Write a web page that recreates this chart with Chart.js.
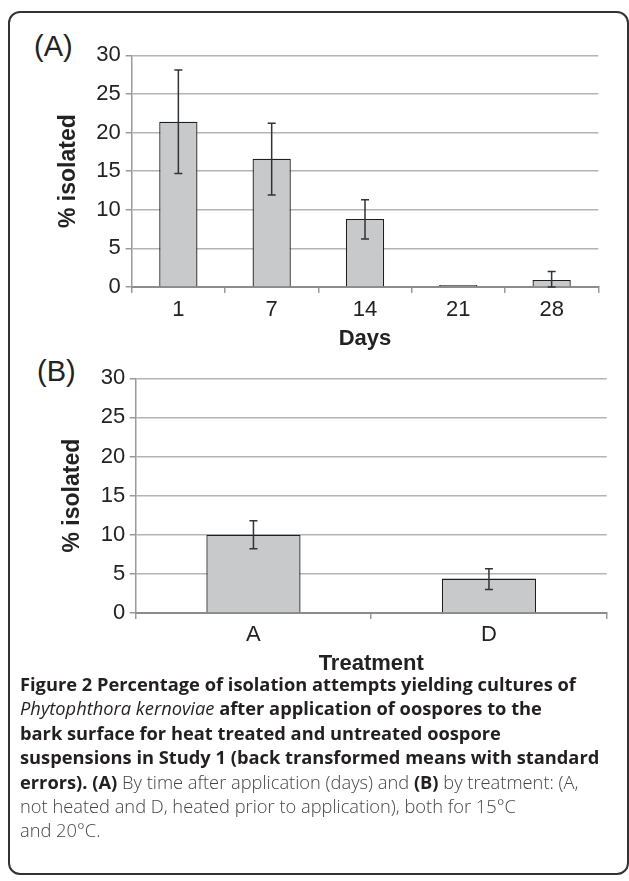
<!DOCTYPE html>
<html>
<head>
<meta charset="utf-8">
<script src="https://cdn.jsdelivr.net/npm/chart.js@4/dist/chart.umd.min.js"></script>
<style>
    html, body {
        margin: 0;
        padding: 0;
        background: #ffffff;
    }
    body {
        position: relative;
        width: 629px;
        height: 881px;
        overflow: hidden;
    }
    .frame {
        position: absolute;
        left: 8px;
        top: 11px;
        width: 617px;
        height: 860px;
        border: 2px solid #333333;
        border-radius: 12px;
    }
    canvas {
        position: absolute;
        left: 0;
    }
    #chart-days {
        top: 0;
    }
    #chart-treatment {
        top: 355px;
    }
    .panel-label {
        position: absolute;
        font-family: "Liberation Sans", Arial, sans-serif;
        font-size: 29px;
        line-height: 29px;
        color: #222222;
    }
    .caption {
        position: absolute;
        left: 20px;
        top: 672px;
        font-family: "Open Sans", "Noto Sans", sans-serif;
        font-size: 18.3px;
        line-height: 24.4px;
        color: #444444;
        font-weight: 300;
        white-space: nowrap;
    }
    .caption b {
        font-weight: 700;
        color: #231f20;
    }
    .caption i {
        font-weight: 400;
        color: #231f20;
    }
</style>
</head>
<body>
<div class="frame"></div>
<div class="panel-label" style="left: 34px; top: 32px">(A)</div>
<div class="panel-label" style="left: 37px; top: 357px">(B)</div>
<canvas id="chart-days" width="629" height="355"></canvas>
<canvas id="chart-treatment" width="629" height="335"></canvas>
<div class="caption">
    <b>Figure 2 Percentage of isolation attempts yielding cultures of</b><br>
    <i>Phytophthora kernoviae</i> <b>after application of oospores to the</b><br>
    <b>bark surface for heat treated and untreated oospore</b><br>
    <b>suspensions in Study 1 (back transformed means with standard</b><br>
    <b>errors). (A)</b> By time after application (days) and <b>(B)</b> by treatment: (A,<br>
    not heated and D, heated prior to application), both for 15°C<br>
    and 20°C.
</div>
<script>
// (A) percentage isolated by days after application
var dayLabels = ["1", "7", "14", "21", "28"];
var dayMeans = [21.4, 16.6, 8.8, 0.25, 0.9];
var dayUpper = [28.1, 21.2, 11.3, 0.25, 2.0];
var dayLower = [14.7, 11.9, 6.2, 0.25, 0.0];

// (B) percentage isolated by treatment
var treatmentLabels = ["A", "D"];
var treatmentMeans = [10.0, 4.4];
var treatmentUpper = [11.8, 5.65];
var treatmentLower = [8.2, 3.0];

var yTicks = [0, 5, 10, 15, 20, 25, 30];

var tickFont = { family: "Liberation Sans", size: 22 };
var xTitleFont = { family: "Liberation Sans", size: 22, weight: "bold" };
var yTitleFont = { family: "Liberation Sans", size: 23, weight: "bold" };

// draws standard error whiskers for each bar
var errorBarsPlugin = {
    id: "errorBars",
    afterDatasetsDraw: function (chart, args, opts) {
        var ctx = chart.ctx;
        var meta = chart.getDatasetMeta(0);
        var yScale = chart.scales.y;
        ctx.save();
        ctx.strokeStyle = "#333333";
        ctx.lineWidth = 1.5;
        meta.data.forEach(function (bar, i) {
            var hi = opts.upper[i];
            var lo = opts.lower[i];
            if (hi === lo) return;
            var yHi = yScale.getPixelForValue(hi);
            var yLo = yScale.getPixelForValue(lo);
            var x = bar.x;
            ctx.beginPath();
            ctx.moveTo(x, yHi);
            ctx.lineTo(x, yLo);
            ctx.moveTo(x - 4, yHi);
            ctx.lineTo(x + 4, yHi);
            ctx.moveTo(x - 4, yLo);
            ctx.lineTo(x + 4, yLo);
            ctx.stroke();
        });
        ctx.restore();
    },
};

function makeConfig(labels, means, upper, lower, xTitle, barPct, pad, yWidth, xHeight, yTickPad, xTickPad, xTitlePad) {
    return {
        type: "bar",
        data: {
            labels: labels,
            datasets: [
                {
                    data: means,
                    backgroundColor: "#c8c9cb",
                    borderColor: "#1e1e1e",
                    borderWidth: 1.3,
                    barPercentage: barPct,
                    categoryPercentage: 1.0,
                },
            ],
        },
        options: {
            responsive: false,
            animation: false,
            events: [],
            layout: { padding: pad },
            plugins: {
                legend: { display: false },
                tooltip: { enabled: false },
                errorBars: { upper: upper, lower: lower },
            },
            scales: {
                x: {
                    grid: {
                        offset: true,
                        drawOnChartArea: false,
                        color: "#9a9a9a",
                        lineWidth: 1.5,
                        tickLength: 6,
                    },
                    border: { color: "#8c8c8c", width: 2 },
                    ticks: { color: "#222222", font: tickFont, padding: xTickPad },
                    title: {
                        display: true,
                        text: xTitle,
                        color: "#222222",
                        font: xTitleFont,
                        padding: { top: 0, bottom: xTitlePad },
                    },
                    afterFit: function (scale) {
                        scale.height = xHeight;
                    },
                },
                y: {
                    min: 0,
                    max: 30,
                    afterBuildTicks: function (scale) {
                        scale.ticks = yTicks.map(function (v) {
                            return { value: v };
                        });
                    },
                    grid: {
                        color: "#b4b4b4",
                        lineWidth: 1.5,
                        tickLength: 6,
                        tickColor: "#9a9a9a",
                    },
                    border: { color: "#9a9a9a", width: 1.5 },
                    ticks: { color: "#222222", font: tickFont, padding: yTickPad },
                    title: {
                        display: true,
                        text: "% isolated",
                        color: "#222222",
                        font: yTitleFont,
                        padding: { top: 5.2, bottom: 0 },
                    },
                    afterFit: function (scale) {
                        scale.width = yWidth;
                    },
                },
            },
        },
        plugins: [errorBarsPlugin],
    };
}

var daysChart = new Chart(
    document.getElementById("chart-days").getContext("2d"),
    makeConfig(dayLabels, dayMeans, dayUpper, dayLower, "Days", 0.41,
        { left: 50, right: 30.7, top: 55.3, bottom: 0 }, 81.7, 68, 5, 3.8, 2.8)
);

var treatmentChart = new Chart(
    document.getElementById("chart-treatment").getContext("2d"),
    makeConfig(treatmentLabels, treatmentMeans, treatmentUpper, treatmentLower, "Treatment", 0.4,
        { left: 54, right: 22.3, top: 23.3, bottom: 0 }, 81.7, 77, 4.5, 2.8, 12.8)
);
</script>
</body>
</html>
